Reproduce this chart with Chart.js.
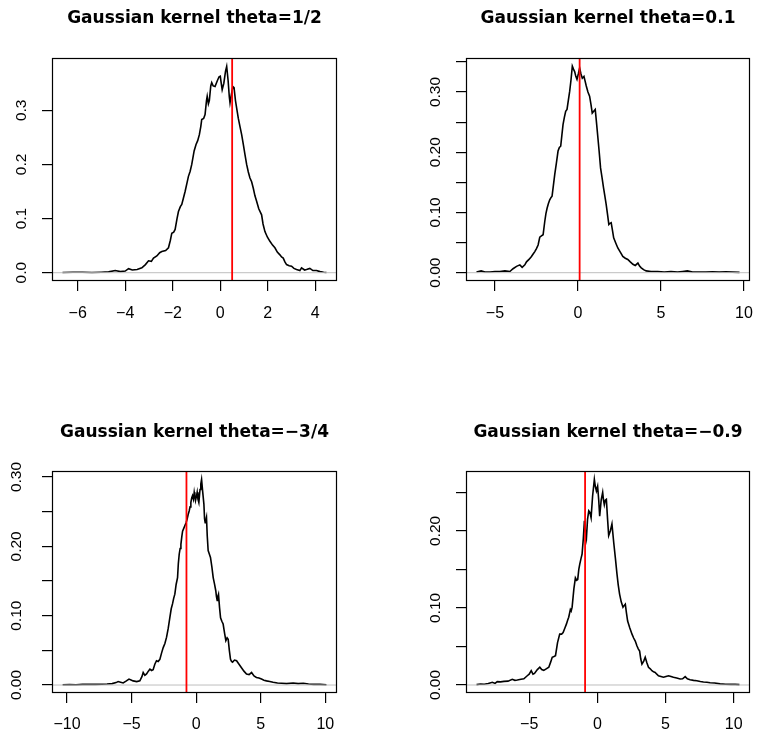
<!DOCTYPE html>
<html><head><meta charset="utf-8">
<script src="https://cdn.jsdelivr.net/npm/chart.js@4.4.1/dist/chart.umd.min.js"></script>
<style>
html,body{margin:0;padding:0;background:#fff;}
#wrap{position:relative;width:757px;height:738px;overflow:hidden;background:#fff;}
canvas{position:absolute;}
</style></head><body>
<div id="wrap">
<canvas id="c1" width="378" height="369" style="left:0px;top:0px"></canvas>
<canvas id="c2" width="379" height="369" style="left:378px;top:0px"></canvas>
<canvas id="c3" width="378" height="369" style="left:0px;top:369px"></canvas>
<canvas id="c4" width="379" height="369" style="left:378px;top:369px"></canvas>
</div>
<script>
// ---------- data ----------
const titles = ['Gaussian kernel theta=1/2', 'Gaussian kernel theta=0.1', 'Gaussian kernel theta=\u22123/4', 'Gaussian kernel theta=\u22120.9'];
const thetas = [0.5, 0.1, -0.75, -0.9];

const x1 = [-6.64,-6.2,-5.8,-5.4,-5.0,-4.7,-4.42,-4.2,-4.0,-3.86,-3.7,-3.5,-3.3,-3.15,-3.02,-2.9,-2.81,-2.67,-2.55,-2.46,-2.3,-2.18,-2.1,-2.04,-1.96,-1.9,-1.82,-1.76,-1.68,-1.62,-1.55,-1.48,-1.4,-1.34,-1.27,-1.2,-1.1,-1.02,-0.95,-0.88,-0.82,-0.78,-0.7,-0.64,-0.58,-0.55,-0.5,-0.46,-0.4,-0.36,-0.3,-0.22,-0.12,-0.05,0.0,0.04,0.08,0.15,0.22,0.27,0.33,0.38,0.41,0.47,0.53,0.58,0.64,0.69,0.76,0.83,0.9,0.97,1.04,1.11,1.18,1.25,1.32,1.39,1.46,1.53,1.62,1.74,1.8,1.88,1.98,2.09,2.2,2.3,2.4,2.51,2.58,2.65,2.72,2.79,2.9,3.0,3.1,3.21,3.35,3.42,3.55,3.63,3.77,3.9,4.05,4.2,4.35,4.47];
const y1 = [0.0005,0.001,0.0008,0.0005,0.001,0.0015,0.004,0.002,0.003,0.0074,0.005,0.006,0.009,0.015,0.022,0.021,0.027,0.031,0.037,0.039,0.041,0.046,0.06,0.073,0.075,0.08,0.1,0.113,0.122,0.126,0.138,0.15,0.166,0.178,0.187,0.2,0.225,0.237,0.244,0.255,0.27,0.283,0.285,0.292,0.318,0.326,0.312,0.318,0.345,0.351,0.345,0.344,0.355,0.362,0.363,0.35,0.338,0.35,0.372,0.381,0.355,0.325,0.314,0.33,0.344,0.342,0.318,0.304,0.285,0.27,0.255,0.237,0.218,0.2,0.186,0.175,0.168,0.156,0.142,0.132,0.118,0.107,0.09,0.076,0.066,0.058,0.051,0.046,0.038,0.033,0.029,0.027,0.02,0.015,0.013,0.012,0.008,0.006,0.004,0.009,0.005,0.006,0.008,0.004,0.004,0.002,0.001,0.0005];

const x2 = [-6.11,-5.83,-5.6,-5.3,-5.0,-4.7,-4.4,-4.1,-3.91,-3.7,-3.5,-3.36,-3.2,-3.1,-2.95,-2.8,-2.7,-2.6,-2.5,-2.4,-2.3,-2.2,-2.1,-2.0,-1.93,-1.86,-1.78,-1.7,-1.62,-1.56,-1.48,-1.4,-1.3,-1.2,-1.12,-1.04,-0.97,-0.9,-0.82,-0.74,-0.66,-0.58,-0.5,-0.42,-0.34,-0.27,-0.2,-0.13,-0.06,0.02,0.1,0.18,0.26,0.36,0.43,0.5,0.6,0.7,0.78,0.86,0.95,1.04,1.12,1.2,1.28,1.36,1.45,1.54,1.62,1.7,1.78,1.86,1.93,2.0,2.08,2.15,2.28,2.4,2.55,2.7,2.85,3.0,3.15,3.31,3.45,3.61,3.71,3.81,3.95,4.11,4.4,4.8,5.2,5.6,6.0,6.3,6.59,6.9,7.3,7.7,8.1,8.5,8.9,9.3,9.73];
const y2 = [0.001,0.003,0.001,0.001,0.002,0.002,0.003,0.002,0.0066,0.0105,0.013,0.009,0.013,0.018,0.022,0.027,0.031,0.035,0.04,0.046,0.059,0.061,0.063,0.085,0.098,0.107,0.115,0.121,0.125,0.127,0.145,0.163,0.182,0.202,0.208,0.21,0.228,0.246,0.258,0.268,0.271,0.286,0.301,0.32,0.343,0.338,0.334,0.326,0.321,0.33,0.34,0.33,0.323,0.326,0.318,0.31,0.3,0.293,0.28,0.265,0.268,0.271,0.248,0.224,0.2,0.174,0.158,0.141,0.127,0.113,0.097,0.08,0.082,0.083,0.07,0.058,0.049,0.041,0.034,0.027,0.024,0.022,0.018,0.014,0.012,0.016,0.011,0.008,0.005,0.003,0.002,0.002,0.001,0.002,0.001,0.002,0.003,0.001,0.001,0.001,0.0015,0.001,0.0015,0.001,0.0005];

const x3 = [-10.34,-9.8,-9.3,-8.8,-8.3,-7.8,-7.3,-6.9,-6.5,-6.2,-6.04,-5.85,-5.65,-5.4,-5.2,-5.0,-4.88,-4.6,-4.36,-4.2,-4.1,-3.97,-3.84,-3.7,-3.58,-3.45,-3.33,-3.2,-3.07,-2.94,-2.81,-2.68,-2.55,-2.42,-2.29,-2.16,-2.04,-1.93,-1.83,-1.74,-1.65,-1.55,-1.44,-1.38,-1.31,-1.24,-1.18,-1.11,-1.05,-0.96,-0.87,-0.78,-0.7,-0.62,-0.54,-0.47,-0.41,-0.34,-0.28,-0.21,-0.15,-0.1,-0.05,0.02,0.08,0.14,0.21,0.3,0.36,0.42,0.5,0.6,0.65,0.7,0.75,0.8,0.86,0.93,1.02,1.11,1.22,1.32,1.42,1.52,1.57,1.63,1.68,1.73,1.81,1.89,1.99,2.09,2.2,2.3,2.4,2.48,2.57,2.66,2.74,2.82,2.97,3.13,3.32,3.51,3.7,3.9,4.1,4.29,4.48,4.67,4.86,5.06,5.25,5.45,5.7,5.96,6.3,6.61,7.0,7.51,7.9,8.3,8.7,9.1,9.6,10.09];
const y3 = [0.0005,0.0008,0.0005,0.001,0.001,0.001,0.0012,0.0015,0.002,0.0035,0.005,0.004,0.003,0.006,0.0086,0.007,0.006,0.005,0.006,0.012,0.018,0.014,0.016,0.02,0.023,0.021,0.022,0.03,0.035,0.034,0.037,0.046,0.054,0.06,0.069,0.082,0.097,0.11,0.117,0.125,0.131,0.145,0.155,0.175,0.189,0.197,0.203,0.214,0.222,0.226,0.23,0.234,0.239,0.246,0.251,0.257,0.263,0.27,0.273,0.268,0.278,0.272,0.266,0.272,0.278,0.268,0.263,0.282,0.29,0.2965,0.28,0.261,0.24,0.234,0.238,0.242,0.215,0.194,0.189,0.184,0.17,0.155,0.146,0.136,0.128,0.122,0.128,0.131,0.112,0.097,0.092,0.088,0.075,0.064,0.068,0.066,0.05,0.037,0.034,0.033,0.036,0.035,0.03,0.025,0.02,0.016,0.015,0.018,0.013,0.011,0.01,0.0086,0.007,0.006,0.005,0.004,0.003,0.0025,0.002,0.003,0.002,0.0025,0.0015,0.001,0.001,0.0005];

const x4 = [-8.86,-8.56,-8.3,-8.0,-7.7,-7.5,-7.34,-7.1,-6.85,-6.55,-6.24,-6.05,-5.87,-5.6,-5.39,-5.14,-5.0,-4.85,-4.72,-4.61,-4.4,-4.22,-4.08,-3.93,-3.75,-3.56,-3.42,-3.31,-3.18,-3.07,-2.92,-2.76,-2.62,-2.51,-2.38,-2.27,-2.18,-2.1,-1.98,-1.92,-1.85,-1.72,-1.61,-1.52,-1.44,-1.36,-1.29,-1.2,-1.12,-1.03,-0.95,-0.88,-0.8,-0.72,-0.63,-0.55,-0.46,-0.35,-0.22,-0.15,-0.07,0.02,0.1,0.17,0.28,0.39,0.45,0.51,0.58,0.66,0.75,0.83,0.95,1.07,1.2,1.32,1.44,1.53,1.63,1.75,1.88,1.96,2.05,2.13,2.22,2.38,2.54,2.66,2.78,2.9,3.0,3.1,3.18,3.27,3.4,3.51,3.63,3.75,3.88,4.0,4.12,4.24,4.36,4.48,4.66,4.85,5.03,5.22,5.4,5.58,5.82,6.07,6.25,6.44,6.6,6.8,7.05,7.29,7.55,7.78,8.03,8.27,8.6,9.0,9.4,9.8,10.1,10.42];
const y4 = [0.0005,0.0013,0.001,0.002,0.0035,0.002,0.0043,0.004,0.0047,0.005,0.0073,0.006,0.0065,0.0075,0.008,0.012,0.014,0.0186,0.014,0.015,0.02,0.023,0.02,0.019,0.021,0.023,0.03,0.036,0.037,0.038,0.055,0.066,0.066,0.068,0.074,0.079,0.084,0.088,0.098,0.096,0.101,0.125,0.139,0.136,0.137,0.15,0.157,0.164,0.17,0.19,0.213,0.2,0.191,0.215,0.226,0.224,0.217,0.245,0.267,0.258,0.252,0.258,0.24,0.219,0.24,0.25,0.24,0.234,0.24,0.241,0.215,0.194,0.2,0.209,0.185,0.165,0.144,0.13,0.118,0.108,0.101,0.103,0.105,0.094,0.083,0.074,0.066,0.061,0.057,0.051,0.047,0.044,0.034,0.027,0.031,0.036,0.029,0.023,0.021,0.0186,0.017,0.0164,0.014,0.012,0.011,0.01,0.011,0.012,0.011,0.01,0.009,0.0078,0.008,0.0108,0.008,0.0069,0.006,0.0056,0.0045,0.0039,0.0035,0.003,0.0025,0.0015,0.001,0.0008,0.0008,0.0005];

// axis limits (R style, 4% extension of the data range)
const xLim1 = [-7.082, 4.913], yLim1 = [-0.0153, 0.3966];
const xLim2 = [-6.743, 10.36], yLim2 = [-0.0138, 0.3565];
const xLim3 = [-11.161, 10.906], yLim3 = [-0.0115, 0.3087];
const xLim4 = [-9.632, 11.193], yLim4 = [-0.0104, 0.2778];

// tick values and labels
const xTicks1 = [-6,-4,-2,0,2,4],  xLabels1 = ['\u22126','\u22124','\u22122','0','2','4'];
const xTicks2 = [-5,0,5,10],       xLabels2 = ['\u22125','0','5','10'];
const xTicks3 = [-10,-5,0,5,10],   xLabels3 = ['\u221210','\u22125','0','5','10'];
const xTicks4 = [-5,0,5,10],       xLabels4 = ['\u22125','0','5','10'];
const yTicks1 = [0,0.1,0.2,0.3],   yLabels1 = ['0.0','0.1','0.2','0.3'];
const yTicks2 = [0,0.05,0.1,0.15,0.2,0.25,0.3,0.35], yLabels2 = ['0.00','','0.10','','0.20','','0.30',''];
const yTicks3 = [0,0.05,0.1,0.15,0.2,0.25,0.3],      yLabels3 = ['0.00','','0.10','','0.20','','0.30'];
const yTicks4 = [0,0.05,0.1,0.15,0.2,0.25],          yLabels4 = ['0.00','','0.10','','0.20',''];

// ---------- layout (pixels inside each canvas) ----------
const layouts = [
  {id:'c1', padL:0,  padR:41, padB:38, xH:50, yW:52, tTop:8,    tBot:29.6, xPad:13.0, yPad:9.7},
  {id:'c2', padL:36, padR:7,  padB:38, xH:50, yW:52, tTop:8,    tBot:29.6, xPad:13.0, yPad:5.4},
  {id:'c3', padL:0,  padR:41, padB:0,  xH:45, yW:52, tTop:53.1, tBot:28.5, xPad:12.2, yPad:9.7},
  {id:'c4', padL:36, padR:7,  padB:0,  xH:45, yW:52, tTop:53.1, tBot:28.5, xPad:12.2, yPad:5.4}
];

const panels = [
  {x:x1, y:y1, xLim:xLim1, yLim:yLim1, xT:xTicks1, xL:xLabels1, yT:yTicks1, yL:yLabels1},
  {x:x2, y:y2, xLim:xLim2, yLim:yLim2, xT:xTicks2, xL:xLabels2, yT:yTicks2, yL:yLabels2},
  {x:x3, y:y3, xLim:xLim3, yLim:yLim3, xT:xTicks3, xL:xLabels3, yT:yTicks3, yL:yLabels3},
  {x:x4, y:y4, xLim:xLim4, yLim:yLim4, xT:xTicks4, xL:xLabels4, yT:yTicks4, yL:yLabels4}
];

const tickFamily = "'Liberation Sans', Arial, sans-serif";
Chart.defaults.font.family = tickFamily;
Chart.defaults.color = '#000';

const boxPlugin = {
  id: 'rbox',
  afterDatasetsDraw(chart) {
    const a = chart.chartArea, ctx = chart.ctx;
    ctx.save();
    ctx.strokeStyle = '#000';
    ctx.lineWidth = 1.2;
    ctx.strokeRect(a.left + 0.5, a.top + 0.5, a.right - a.left - 1, a.bottom - a.top - 1);
    ctx.restore();
  }
};

panels.forEach((p, k) => {
  const L = layouts[k];
  const density = p.x.map((v, i) => ({x: v, y: p.y[i]}));
  new Chart(document.getElementById(L.id), {
    type: 'line',
    data: {
      datasets: [
        {data: [{x: thetas[k], y: p.yLim[0]}, {x: thetas[k], y: p.yLim[1]}], borderColor: '#FF0000', borderWidth: 1.8, pointRadius: 0},
        {data: [{x: p.xLim[0], y: 0}, {x: p.xLim[1], y: 0}], borderColor: '#BEBEBE', borderWidth: 1, pointRadius: 0},
        {data: density, borderColor: '#000', borderWidth: 1.6, pointRadius: 0, tension: 0}
      ]
    },
    options: {
      responsive: false,
      devicePixelRatio: 1,
      animation: false,
      events: [],
      layout: {padding: {left: L.padL, right: L.padR, top: 0, bottom: L.padB}},
      plugins: {
        legend: {display: false},
        tooltip: {enabled: false},
        title: {
          display: true, text: titles[k], fullSize: false, color: '#000',
          font: {family: "'DejaVu Sans', sans-serif", size: 17, weight: 'bold', lineHeight: 1.2},
          padding: {top: L.tTop, bottom: L.tBot}
        }
      },
      scales: {
        x: {
          type: 'linear', position: 'bottom', bounds: 'data',
          min: p.xLim[0], max: p.xLim[1],
          grid: {display: true, drawOnChartArea: false, drawTicks: true, tickLength: 10, color: '#000', lineWidth: 1.2},
          border: {display: false},
          ticks: {autoSkip: false, maxRotation: 0, minRotation: 0, padding: L.xPad, color: '#000',
                  font: {family: tickFamily, size: 16}, callback: (v, i) => p.xL[i]},
          afterBuildTicks: s => { s.ticks = p.xT.map(v => ({value: v})); },
          afterFit: s => { s.height = L.xH; s.paddingLeft = 0; s.paddingRight = 0; s.paddingTop = 0; s.paddingBottom = 0; }
        },
        y: {
          type: 'linear', position: 'left', bounds: 'data',
          min: p.yLim[0], max: p.yLim[1],
          grid: {display: true, drawOnChartArea: false, drawTicks: true, tickLength: 10, color: '#000', lineWidth: 1.2},
          border: {display: false},
          ticks: {autoSkip: false, minRotation: 90, maxRotation: 90, crossAlign: 'center', padding: L.yPad, color: '#000',
                  font: {family: tickFamily, size: 15.5}, callback: (v, i) => p.yL[i]},
          afterBuildTicks: s => { s.ticks = p.yT.map(v => ({value: v})); },
          afterFit: s => { s.width = L.yW; s.paddingLeft = 0; s.paddingRight = 0; s.paddingTop = 0; s.paddingBottom = 0; }
        }
      }
    },
    plugins: [boxPlugin]
  });
});
</script>
</body></html>
